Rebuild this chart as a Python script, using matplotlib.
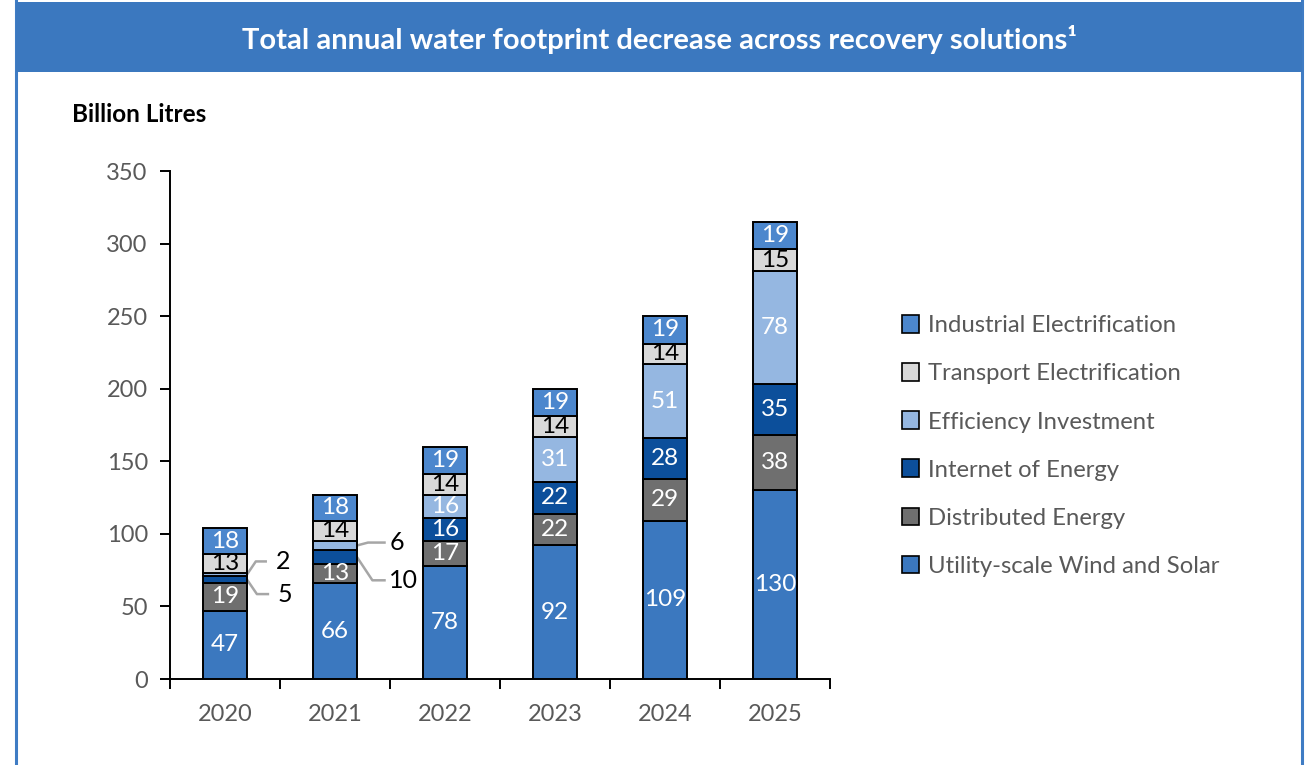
import matplotlib.pyplot as plt
from matplotlib.patches import Rectangle, Patch
import numpy as np

# data (billion litres)
years = ["2020", "2021", "2022", "2023", "2024", "2025"]
series_names = [
    "Utility-scale Wind and Solar",
    "Distributed Energy",
    "Internet of Energy",
    "Efficiency Investment",
    "Transport Electrification",
    "Industrial Electrification",
]
utility = [47, 66, 78, 92, 109, 130]
distributed = [19, 13, 17, 22, 29, 38]
internet = [5, 10, 16, 22, 28, 35]
efficiency = [2, 6, 16, 31, 51, 78]
transport = [13, 14, 14, 14, 14, 15]
industrial = [18, 18, 19, 19, 19, 19]

colors = ["#3B78BF", "#6F6F6F", "#0C4F9B", "#95B7E1", "#D9D9D9", "#4C87CD"]
label_colors = ["white", "white", "white", "white", "black", "white"]

plt.rcParams['font.family'] = ['Lato', 'DejaVu Sans']

W, H = 1307, 765
fig = plt.figure(figsize=(W / 100, H / 100), dpi=100)

# frame + title band
fig.add_artist(Rectangle((16 / W, -0.01), (1302 - 16) / W, 1.2,
                         transform=fig.transFigure, fill=False,
                         edgecolor="#3F7CC4", linewidth=2.2))
fig.add_artist(Rectangle((16 / W, (H - 72) / H), (1302 - 16) / W, 70 / H,
                         transform=fig.transFigure, facecolor="#3B78BF",
                         edgecolor="none"))
fig.text(659 / W, (H - 40) / H,
         "Total annual water footprint decrease across recovery solutions\u00b9",
         color="white", fontsize=21, fontweight="bold", ha="center", va="center")
fig.text(72 / W, (H - 115) / H, "Billion Litres", fontsize=17.5,
         fontweight="bold", ha="left", va="center")

ax = fig.add_axes([170 / W, (H - 679) / H, 660 / W, 508 / H])

data = [utility, distributed, internet, efficiency, transport, industrial]
x = np.arange(len(years))
bottom = np.zeros(len(years))
for vals, name, col, lc in zip(data, series_names, colors, label_colors):
    vals = np.array(vals, dtype=float)
    ax.bar(x, vals, 0.4, bottom=bottom, color=col, edgecolor="black",
           linewidth=1.4, label=name, zorder=3)
    for i, v in enumerate(vals):
        if v >= 12:
            ax.text(x[i], bottom[i] + v / 2, f"{v:.0f}", color=lc,
                    fontsize=17.5, ha="center", va="center", zorder=4)
    bottom += vals

# callouts for small segments: (year index, series index, label dy, elbow x, end x, text x)
callouts = [
    (0, 3, 9, 0.28, 0.37, 0.46),
    (0, 2, -10, 0.29, 0.39, 0.48),
    (1, 3, 2, 0.30, 0.45, 0.50),
    (1, 2, -16, 0.34, 0.45, 0.49),
]
cum = np.cumsum(np.array(data, dtype=float), axis=0)
for yi, si, dy, ex, endx, tx in callouts:
    val = data[si][yi]
    yc = cum[si][yi] - val / 2
    ax.plot([x[yi] + 0.2, x[yi] + ex, x[yi] + endx], [yc, yc + dy, yc + dy],
            color="#A6A6A6", linewidth=1.8, zorder=2, clip_on=False)
    ax.text(x[yi] + tx, yc + dy, str(val), fontsize=18, ha="left",
            va="center", color="black")

ax.set_xlim(-0.5, len(years) - 0.5)
ax.set_ylim(0, 350)
ax.set_yticks(range(0, 351, 50))
ax.set_xticks(x)
ax.set_xticklabels(years)
ax.set_xticks(np.arange(-0.5, len(years), 1), minor=True)
ax.tick_params(axis="x", which="major", length=0, pad=18, labelsize=17,
               labelcolor="#595959")
ax.tick_params(axis="x", which="minor", length=7, width=1.4, direction="out")
ax.tick_params(axis="y", length=7, width=1.4, direction="out", pad=9,
               labelsize=17, labelcolor="#595959")
for s in ["top", "right"]:
    ax.spines[s].set_visible(False)
for s in ["left", "bottom"]:
    ax.spines[s].set_linewidth(1.4)

handles = [Patch(facecolor=c, edgecolor="black", linewidth=1.2)
           for c in colors][::-1]
fig.legend(handles, series_names[::-1], loc="center left",
           bbox_to_anchor=(880 / W, (H - 446) / H), frameon=False,
           fontsize=17.2, labelcolor="#595959", handlelength=0.75,
           handleheight=0.75, handletextpad=0.35, labelspacing=1.13)

fig.savefig("out.png", dpi=100)
